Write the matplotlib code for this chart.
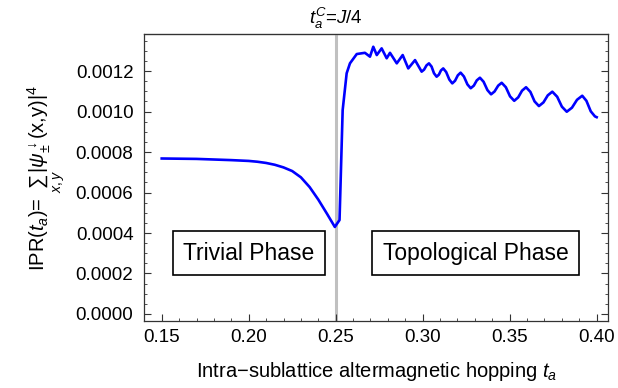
import matplotlib
matplotlib.use('Agg')
import matplotlib.pyplot as plt
from matplotlib.ticker import MultipleLocator

plt.rcParams['font.family'] = ['Liberation Sans', 'DejaVu Sans']
plt.rcParams['mathtext.fontset'] = 'custom'
plt.rcParams['mathtext.rm'] = 'Liberation Sans'
plt.rcParams['mathtext.it'] = 'Liberation Sans:italic'
plt.rcParams['mathtext.bf'] = 'Liberation Sans:bold'

# IPR curve
t_a = [0.150, 0.170, 0.190, 0.200, 0.205, 0.210, 0.215, 0.220, 0.225, 0.230,
       0.235, 0.240, 0.245, 0.2495, 0.2522, 0.2540, 0.2563, 0.2582, 0.2621,
       0.2668, 0.2697, 0.2716, 0.2736, 0.2764, 0.2793, 0.2812, 0.2851, 0.2885,
       0.2917, 0.2956, 0.2994, 0.3008, 0.3022, 0.3036, 0.3051, 0.3065, 0.3080,
       0.3093, 0.3105, 0.3118, 0.3135, 0.3153, 0.3170, 0.3186, 0.3202, 0.3218,
       0.3237, 0.3257, 0.3276, 0.3294, 0.3311, 0.3329, 0.3350, 0.3372, 0.3393,
       0.3413, 0.3434, 0.3454, 0.3478, 0.3502, 0.3526, 0.3549, 0.3571, 0.3594,
       0.3619, 0.3643, 0.3668, 0.3694, 0.3719, 0.3745, 0.3773, 0.3800, 0.3828,
       0.3858, 0.3887, 0.3917, 0.3941, 0.3966, 0.3990, 0.4000]
ipr = [0.000768, 0.000766, 0.000760, 0.000756, 0.000752, 0.000746, 0.000737,
       0.000724, 0.000706, 0.000675, 0.000627, 0.000565, 0.000495, 0.000430,
       0.000464, 0.001007, 0.001189, 0.001238, 0.001284, 0.001290, 0.001271,
       0.001320, 0.001279, 0.001312, 0.001263, 0.001290, 0.001238, 0.001279,
       0.001213, 0.001254, 0.001197, 0.001207, 0.001228, 0.001238, 0.001222,
       0.001189, 0.001172, 0.001182, 0.001203, 0.001213, 0.001195, 0.001158,
       0.001139, 0.001152, 0.001179, 0.001192, 0.001173, 0.001134, 0.001115,
       0.001128, 0.001154, 0.001167, 0.001147, 0.001106, 0.001085, 0.001099,
       0.001128, 0.001142, 0.001120, 0.001075, 0.001053, 0.001070, 0.001103,
       0.001120, 0.001097, 0.001050, 0.001027, 0.001045, 0.001080, 0.001098,
       0.001073, 0.001024, 0.000999, 0.001019, 0.001058, 0.001078, 0.001053,
       0.001001, 0.000976, 0.000972]

t_crit = 0.25
x_ticks = [0.15, 0.20, 0.25, 0.30, 0.35, 0.40]
y_ticks = [0.0, 0.0002, 0.0004, 0.0006, 0.0008, 0.0010, 0.0012]

fig = plt.figure(figsize=(6.18, 3.88), dpi=100)
ax = fig.add_axes([0.2338, 0.1727, 0.7500, 0.7397])

ax.axvline(t_crit, color='#c0c0c0', linewidth=2.2, zorder=1)
ax.plot(t_a, ipr, color='#0000ff', linewidth=1.9, zorder=3,
        solid_joinstyle='round')

ax.set_xlim(0.1401, 0.4065)
ax.set_ylim(-0.0000346, 0.001383)
ax.set_xticks(x_ticks)
ax.set_xticklabels([f'{v:.2f}' for v in x_ticks])
ax.set_yticks(y_ticks)
ax.set_yticklabels([f'{v:.4f}' for v in y_ticks])
ax.xaxis.set_minor_locator(MultipleLocator(0.01))
ax.yaxis.set_minor_locator(MultipleLocator(0.00005))
ax.tick_params(which='both', direction='in', bottom=True, left=True,
               right=True, top=False, color='#333333', labelsize=13.5)
ax.tick_params(which='major', length=5, width=0.8)
ax.tick_params(which='minor', length=2.5, width=0.6)
ax.tick_params(axis='y', which='major', pad=8)
ax.tick_params(axis='x', which='major', pad=6)
for sp in ax.spines.values():
    sp.set_color('#333333')
    sp.set_linewidth(0.9)

top = ax.secondary_xaxis('top')
top.set_xticks([t_crit])
top.set_xticklabels([r'$t_a^C$=$J$/4'])
top.tick_params(direction='in', length=5, width=0.8, color='#333333',
                labelsize=13.5, pad=2)
top.xaxis.set_minor_locator(MultipleLocator(1))

ax.set_xlabel(r'Intra$-$sublattice altermagnetic hopping $t_a$', fontsize=14.5,
              labelpad=10)
ax.set_ylabel(r'IPR($t_a$)= $\sum_{x,y}$|$\psi^{\downarrow}_{\pm}$(x,y)|$^4$',
              fontsize=14.5, labelpad=6)

box = dict(boxstyle='square,pad=0.45', facecolor='white', edgecolor='black',
           linewidth=1.2)
ax.text(0.2002, 0.000300, 'Trivial Phase', fontsize=16.5, ha='center',
        va='center', bbox=box, zorder=4)
ax.text(0.3303, 0.000300, 'Topological Phase', fontsize=16.5, ha='center',
        va='center', bbox=box, zorder=4)

fig.savefig('out.png', dpi=100)
